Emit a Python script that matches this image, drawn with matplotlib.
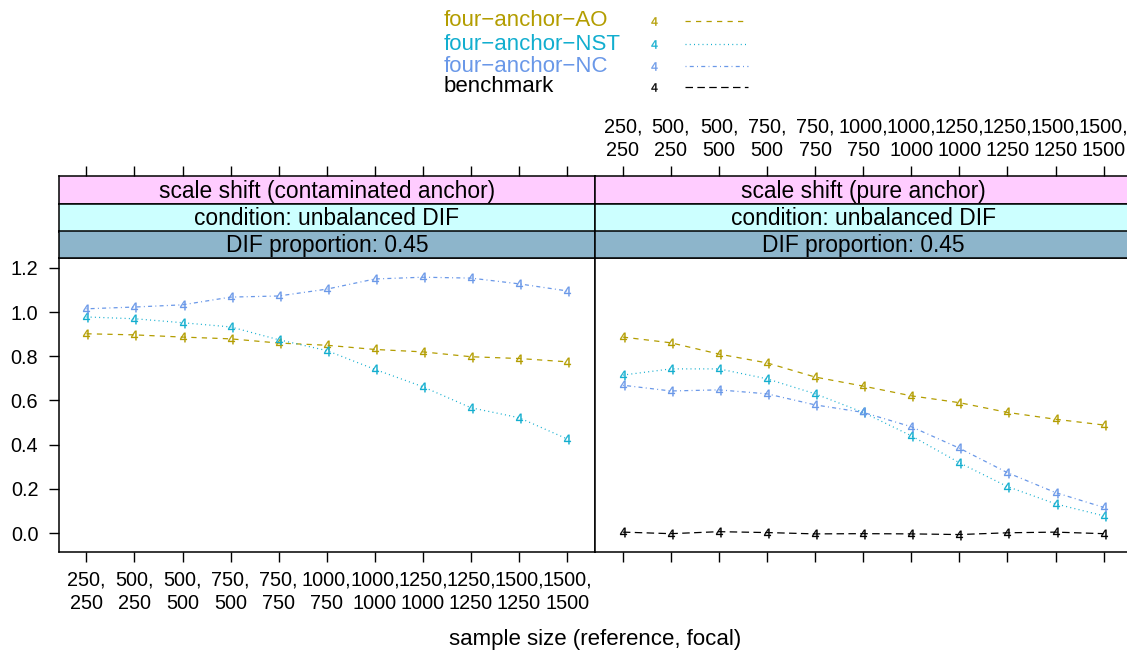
import matplotlib
matplotlib.use("Agg")
import matplotlib.pyplot as plt
from matplotlib.lines import Line2D
import numpy as np

plt.rcParams['font.family'] = ['Liberation Sans', 'DejaVu Sans']

# ---------------- data ----------------
tick_labels = ["250,\n250", "500,\n250", "500,\n500", "750,\n500", "750,\n750",
               "1000,\n750", "1000,\n1000", "1250,\n1000", "1250,\n1250",
               "1500,\n1250", "1500,\n1500"]
x = np.arange(1, 12)

series_names = ["four\u2212anchor\u2212AO", "four\u2212anchor\u2212NST",
                "four\u2212anchor\u2212NC", "benchmark"]
series_colors = ["#B39D00", "#12AECF", "#6A98E8", "#000000"]

# left panel: scale shift (contaminated anchor)
left_AO = [0.902, 0.897, 0.887, 0.879, 0.860, 0.850, 0.831, 0.820, 0.798, 0.790, 0.775]
left_NST = [0.978, 0.970, 0.952, 0.933, 0.875, 0.826, 0.741, 0.662, 0.567, 0.522, 0.426]
left_NC = [1.015, 1.023, 1.033, 1.068, 1.073, 1.104, 1.150, 1.158, 1.154, 1.128, 1.096]

# right panel: scale shift (pure anchor)
right_AO = [0.887, 0.861, 0.810, 0.770, 0.706, 0.665, 0.621, 0.590, 0.546, 0.515, 0.489]
right_NST = [0.715, 0.743, 0.743, 0.698, 0.630, 0.546, 0.440, 0.318, 0.210, 0.132, 0.078]
right_NC = [0.669, 0.643, 0.648, 0.630, 0.580, 0.546, 0.481, 0.384, 0.273, 0.183, 0.116]
right_BM = [0.004, -0.003, 0.006, 0.002, -0.004, -0.003, -0.004, -0.007, 0.001, 0.004, -0.003]

panel_titles = ["scale shift (contaminated anchor)", "scale shift (pure anchor)"]
strip2 = "condition: unbalanced DIF"
strip3 = "DIF proportion: 0.45"
y_ticks = [0.0, 0.2, 0.4, 0.6, 0.8, 1.0, 1.2]
xlabel = "sample size (reference, focal)"

# ---------------- styles ----------------
dash_styles = [(0, (4.2, 4.2)), (0, (0.8, 2.6)), (0, (0.8, 2.6, 3.2, 2.6)), (0, (6.0, 3.5))]
strip_colors = ["#FFCCFF", "#CCFFFF", "#8DB5CB"]

W, H = 1127, 652
fig = plt.figure(figsize=(W / 100, H / 100), dpi=100)


def rect(x0, y0, x1, y1):
    return [x0 / W, 1 - y1 / H, (x1 - x0) / W, (y1 - y0) / H]


xlim = (0.42, 11.58)
ylim = (-0.086, 1.245)
panels = [(58.5, 595.0), (595.0, 1131.5)]
data = [
    [left_AO, left_NST, left_NC, None],
    [right_AO, right_NST, right_NC, right_BM],
]

TICK_FS = 14.3
STRIP_FS = 16.4
LEG_FS = 16.0
LS = 1.28
spine_lw = 1.1

for pi, (px0, px1) in enumerate(panels):
    ax = fig.add_axes(rect(px0, 258, px1, 552))
    ax.set_xlim(*xlim)
    ax.set_ylim(*ylim)
    for si, vals in enumerate(data[pi]):
        if vals is None:
            continue
        ax.plot(x, vals, color=series_colors[si], linestyle=dash_styles[si], lw=0.9,
                marker="$4$", markersize=6.8, markeredgewidth=0.2, zorder=3)
    for s in ax.spines.values():
        s.set_linewidth(spine_lw)
    ax.set_xticks(x)
    ax.tick_params(axis="x", direction="out", length=7.2, width=1.0, pad=6,
                   labelsize=TICK_FS, top=False, bottom=True)
    if pi == 0:
        ax.set_xticklabels(tick_labels, linespacing=LS)
        ax.set_yticks(y_ticks)
        ax.set_yticklabels([f"{v:.1f}" for v in y_ticks])
        ax.tick_params(axis="y", direction="out", length=7, width=1.0, pad=7.5,
                       labelsize=TICK_FS, left=True, right=False)
    else:
        ax.set_xticklabels([])
        ax.set_yticks(y_ticks)
        ax.set_yticklabels([])
        ax.tick_params(axis="y", left=False, right=True, direction="out", length=7)

    # strips
    tops = [(176.5, 204.0), (204.0, 231.5), (231.5, 258.0)]
    texts = [panel_titles[pi], strip2, strip3]
    for k, (t0, t1) in enumerate(tops):
        sax = fig.add_axes(rect(px0, t0, px1, t1))
        sax.set_facecolor(strip_colors[k])
        sax.set_xlim(*xlim)
        sax.set_ylim(0, 1)
        sax.set_yticks([])
        for s in sax.spines.values():
            s.set_linewidth(spine_lw)
        sax.text(0.5, 0.47, texts[k], transform=sax.transAxes, ha="center", va="center",
                 fontsize=STRIP_FS)
        if k == 0:
            sax.set_xticks(x)
            sax.tick_params(axis="x", top=True, bottom=False, labeltop=(pi == 1),
                            labelbottom=False, direction="out", length=7.2, width=1.0,
                            pad=5, labelsize=TICK_FS)
            if pi == 1:
                sax.set_xticklabels(tick_labels, linespacing=LS)
        else:
            sax.set_xticks([])

fig.text(595 / W, 1 - 640 / H, xlabel, ha="center", va="center", fontsize=LEG_FS)

# legend (key)
leg_y = [21, 44, 66, 87]
for i, name in enumerate(series_names):
    yy = 1 - leg_y[i] / H
    fig.text(444 / W, yy, name, color=series_colors[i], ha="left", va="center",
             fontsize=LEG_FS)
    fig.add_artist(Line2D([654 / W], [yy], marker="$4$", markersize=6,
                          markeredgewidth=0.2, color=series_colors[i],
                          transform=fig.transFigure))
    fig.add_artist(Line2D([685 / W, 748 / W], [yy, yy], color=series_colors[i],
                          linestyle=dash_styles[i], lw=0.9, transform=fig.transFigure))

fig.savefig("out.png", dpi=100)
